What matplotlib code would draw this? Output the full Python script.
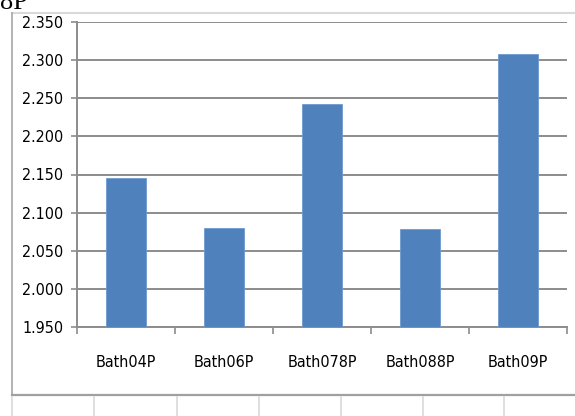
import matplotlib.pyplot as plt
from matplotlib.lines import Line2D
import numpy as np

# Valeurs par bain
categories = ['Bath04P', 'Bath06P', 'Bath078P', 'Bath088P', 'Bath09P']
values = [2.146, 2.080, 2.243, 2.079, 2.308]
y_ticks = [1.950, 2.000, 2.050, 2.100, 2.150, 2.200, 2.250, 2.300, 2.350]

W, H = 575, 416
fig = plt.figure(figsize=(W / 100, H / 100), dpi=100)
ax = fig.add_axes([77 / W, 1 - 327 / H, (567 - 77) / W, (327 - 22) / H])

label_font = dict(family=['DejaVu Sans'], fontstretch='condensed', fontsize=11.5)
grid_col = '#8c8c8c'

x = np.arange(len(categories))
ax.bar(x, values, width=0.4, bottom=0, color='#4f81bd',
       edgecolor='#6f9ad0', linewidth=0.6, zorder=3)

ax.set_xlim(-0.5, len(categories) - 0.5)
ax.set_ylim(y_ticks[0], y_ticks[-1])
ax.set_yticks(y_ticks)
ax.set_yticklabels([f'{v:.3f}' for v in y_ticks], **label_font)
ax.yaxis.grid(True, color=grid_col, linewidth=1.4, zorder=0)
ax.set_axisbelow(True)

# graduations de l'axe x entre les catégories
ax.set_xticks(np.arange(-0.5, len(categories)), minor=False)
ax.set_xticklabels([])
ax.set_xticks(x, minor=True)
ax.set_xticklabels(categories, minor=True, **label_font)
ax.tick_params(axis='x', which='major', length=5, width=1.2, color=grid_col, direction='out')
ax.tick_params(axis='x', which='minor', length=0, pad=20)
ax.tick_params(axis='y', length=4, width=1.2, color=grid_col, pad=6)

for side in ['top', 'right']:
    ax.spines[side].set_visible(False)
for side in ['left', 'bottom']:
    ax.spines[side].set_color(grid_col)
    ax.spines[side].set_linewidth(1.4)

# cadre du graphique et cellules du tableau en dessous
def fx(px):
    return px / W

def fy(py):
    return 1 - py / H

fig.add_artist(Line2D([fx(12), 1], [fy(13), fy(13)], color='#d9d9d9', lw=1.5))
fig.add_artist(Line2D([fx(12), fx(12)], [fy(13), fy(395)], color='#a6a6a6', lw=1.2))
fig.add_artist(Line2D([fx(12), 1], [fy(395), fy(395)], color='#a0a0a0', lw=1.6))
for cx in [12, 94, 177, 259, 341, 423, 504]:
    fig.add_artist(Line2D([fx(cx), fx(cx)], [fy(397), 0], color='#d9d9d9', lw=1.2))

# bout du titre coupé en haut
fig.text(fx(0), fy(9), '8P', family=['Liberation Serif', 'DejaVu Serif'],
         fontsize=19, va='baseline', ha='left', color='black')

fig.savefig('out.png', dpi=100)
